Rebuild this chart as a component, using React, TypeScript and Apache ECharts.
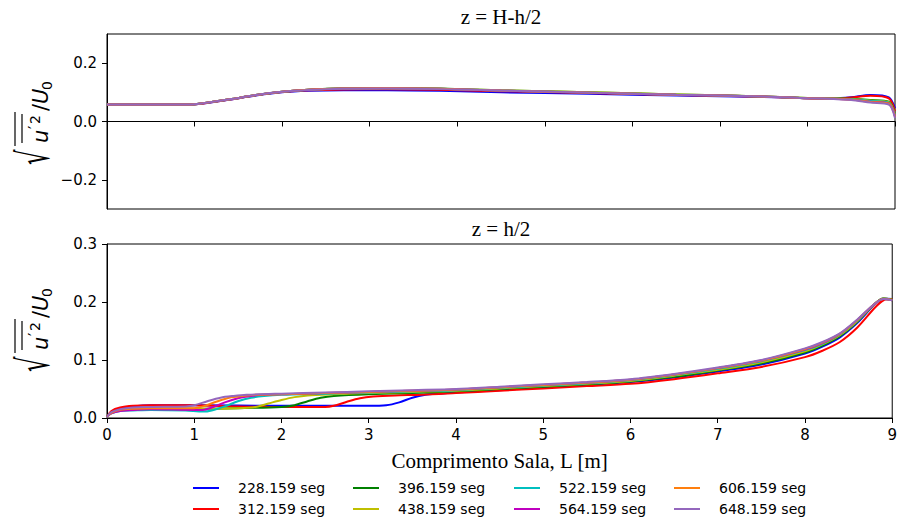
import React, { useEffect, useRef } from "react";
import * as echarts from "echarts";

const seriesNames = [
  "228.159 seg",
  "312.159 seg",
  "396.159 seg",
  "438.159 seg",
  "522.159 seg",
  "564.159 seg",
  "606.159 seg",
  "648.159 seg",
];
const colors = ["#0000ff", "#ff0000", "#008000", "#bfbf00", "#00bfbf", "#bf00bf", "#ff7f0e", "#9467bd"];

const xTicks = [0, 1, 2, 3, 4, 5, 6, 7, 8, 9];
const topYTicks = [-0.2, 0.0, 0.2];
const bottomYTicks = [0.0, 0.1, 0.2, 0.3];

// top panel: z = H-h/2
const topBlue = [[0, 0.058], [0.5, 0.058], [0.95, 0.058], [1.1, 0.062], [1.4, 0.075], [1.7, 0.089], [2.0, 0.1], [2.3, 0.105], [2.7, 0.107], [3.2, 0.107], [3.8, 0.105], [4.5, 0.1], [5.5, 0.095], [6.5, 0.089], [7.5, 0.084], [8.0, 0.08], [8.3, 0.079], [8.5, 0.083], [8.72, 0.091], [8.93, 0.083], [9.0, 0.045]];
const topRed = [[0, 0.058], [0.5, 0.058], [0.95, 0.058], [1.1, 0.062], [1.4, 0.075], [1.7, 0.09], [2.0, 0.101], [2.3, 0.107], [2.7, 0.11], [3.2, 0.111], [3.8, 0.109], [4.5, 0.104], [5.5, 0.098], [6.5, 0.091], [7.5, 0.085], [8.0, 0.08], [8.3, 0.079], [8.5, 0.082], [8.72, 0.088], [8.93, 0.079], [9.0, 0.035]];
const topGreen = [[0, 0.058], [0.5, 0.058], [0.95, 0.058], [1.1, 0.063], [1.4, 0.076], [1.7, 0.091], [2.0, 0.102], [2.3, 0.109], [2.7, 0.114], [3.2, 0.115], [3.8, 0.113], [4.5, 0.107], [5.5, 0.1], [6.5, 0.093], [7.5, 0.086], [8.0, 0.081], [8.3, 0.079], [8.5, 0.078], [8.72, 0.074], [8.93, 0.068], [9.0, 0.026]];
const topYellow = [[0, 0.058], [0.5, 0.058], [0.95, 0.058], [1.1, 0.063], [1.4, 0.076], [1.7, 0.091], [2.0, 0.102], [2.3, 0.109], [2.7, 0.113], [3.2, 0.114], [3.8, 0.112], [4.5, 0.107], [5.5, 0.1], [6.5, 0.093], [7.5, 0.086], [8.0, 0.081], [8.3, 0.079], [8.5, 0.077], [8.72, 0.072], [8.93, 0.066], [9.0, 0.022]];
const topCyan = [[0, 0.058], [0.5, 0.058], [0.95, 0.058], [1.1, 0.063], [1.4, 0.076], [1.7, 0.091], [2.0, 0.102], [2.3, 0.109], [2.7, 0.113], [3.2, 0.114], [3.8, 0.112], [4.5, 0.106], [5.5, 0.099], [6.5, 0.092], [7.5, 0.086], [8.0, 0.08], [8.3, 0.078], [8.5, 0.076], [8.72, 0.07], [8.93, 0.064], [9.0, 0.02]];
const topMagenta = [[0, 0.058], [0.5, 0.058], [0.95, 0.058], [1.1, 0.063], [1.4, 0.076], [1.7, 0.091], [2.0, 0.102], [2.3, 0.109], [2.7, 0.113], [3.2, 0.114], [3.8, 0.112], [4.5, 0.106], [5.5, 0.099], [6.5, 0.092], [7.5, 0.086], [8.0, 0.08], [8.3, 0.078], [8.5, 0.075], [8.72, 0.068], [8.93, 0.062], [9.0, 0.018]];
const topOrange = [[0, 0.058], [0.5, 0.058], [0.95, 0.058], [1.1, 0.063], [1.4, 0.076], [1.7, 0.091], [2.0, 0.102], [2.3, 0.109], [2.7, 0.113], [3.2, 0.114], [3.8, 0.112], [4.5, 0.106], [5.5, 0.099], [6.5, 0.092], [7.5, 0.086], [8.0, 0.08], [8.3, 0.078], [8.5, 0.075], [8.72, 0.067], [8.93, 0.061], [9.0, 0.016]];
const topPurple = [[0, 0.058], [0.5, 0.058], [0.95, 0.058], [1.1, 0.063], [1.4, 0.076], [1.7, 0.091], [2.0, 0.102], [2.3, 0.108], [2.7, 0.112], [3.2, 0.113], [3.8, 0.111], [4.5, 0.106], [5.5, 0.099], [6.5, 0.092], [7.5, 0.086], [8.0, 0.08], [8.3, 0.077], [8.5, 0.074], [8.72, 0.065], [8.93, 0.058], [9.0, 0.012]];

// bottom panel: z = h/2
const botBlue = [[0, 0.002], [0.05, 0.01], [0.15, 0.016], [0.3, 0.02], [0.5, 0.022], [1, 0.022], [2, 0.021], [2.5, 0.021], [3.0, 0.021], [3.2, 0.022], [3.35, 0.027], [3.5, 0.035], [3.65, 0.04], [3.8, 0.042], [4, 0.044], [4.5, 0.048], [5, 0.053], [5.5, 0.057], [6, 0.062], [6.5, 0.07], [7, 0.08], [7.5, 0.092], [8, 0.111], [8.2, 0.123], [8.4, 0.139], [8.6, 0.164], [8.8, 0.196], [8.9, 0.206], [9, 0.205]];
const botRed = [[0, 0.002], [0.05, 0.012], [0.15, 0.018], [0.3, 0.021], [0.5, 0.022], [1, 0.022], [1.5, 0.02], [2, 0.019], [2.5, 0.019], [2.6, 0.021], [2.75, 0.028], [2.9, 0.034], [3.05, 0.037], [3.3, 0.039], [3.6, 0.04], [4, 0.043], [4.5, 0.047], [5, 0.051], [5.5, 0.055], [6, 0.059], [6.5, 0.067], [7, 0.077], [7.5, 0.088], [8, 0.105], [8.2, 0.116], [8.4, 0.131], [8.6, 0.156], [8.8, 0.19], [8.9, 0.203], [9, 0.205]];
const botGreen = [[0, 0.002], [0.05, 0.009], [0.15, 0.013], [0.3, 0.015], [0.5, 0.016], [1, 0.016], [1.5, 0.017], [2, 0.019], [2.15, 0.022], [2.3, 0.029], [2.45, 0.035], [2.6, 0.038], [3, 0.041], [3.5, 0.043], [4, 0.046], [4.5, 0.05], [5, 0.054], [5.5, 0.058], [6, 0.063], [6.5, 0.071], [7, 0.082], [7.5, 0.094], [8, 0.113], [8.2, 0.125], [8.4, 0.141], [8.6, 0.166], [8.8, 0.197], [8.9, 0.206], [9, 0.204]];
const botYellow = [[0, 0.002], [0.05, 0.009], [0.15, 0.013], [0.3, 0.015], [0.5, 0.016], [1, 0.016], [1.5, 0.017], [1.7, 0.019], [1.85, 0.025], [2.0, 0.031], [2.15, 0.036], [2.3, 0.039], [2.6, 0.041], [3, 0.043], [3.5, 0.045], [4, 0.047], [4.5, 0.051], [5, 0.055], [5.5, 0.059], [6, 0.064], [6.5, 0.073], [7, 0.083], [7.5, 0.096], [8, 0.115], [8.2, 0.127], [8.4, 0.143], [8.6, 0.167], [8.8, 0.197], [8.9, 0.206], [9, 0.204]];
const botCyan = [[0, 0.002], [0.05, 0.008], [0.15, 0.012], [0.3, 0.013], [0.5, 0.014], [0.9, 0.013], [1.1, 0.011], [1.2, 0.013], [1.35, 0.02], [1.5, 0.029], [1.65, 0.035], [1.8, 0.038], [2, 0.04], [2.5, 0.042], [3, 0.044], [3.5, 0.046], [4, 0.048], [4.5, 0.052], [5, 0.056], [5.5, 0.06], [6, 0.065], [6.5, 0.074], [7, 0.085], [7.5, 0.098], [8, 0.117], [8.2, 0.128], [8.4, 0.144], [8.6, 0.168], [8.8, 0.197], [8.9, 0.205], [9, 0.203]];
const botMagenta = [[0, 0.002], [0.05, 0.008], [0.15, 0.012], [0.3, 0.014], [0.5, 0.015], [1, 0.014], [1.1, 0.014], [1.2, 0.018], [1.35, 0.027], [1.5, 0.034], [1.65, 0.038], [1.8, 0.04], [2, 0.041], [2.5, 0.043], [3, 0.045], [3.5, 0.047], [4, 0.049], [4.5, 0.053], [5, 0.057], [5.5, 0.061], [6, 0.066], [6.5, 0.075], [7, 0.086], [7.5, 0.099], [8, 0.118], [8.2, 0.129], [8.4, 0.145], [8.6, 0.169], [8.8, 0.197], [8.9, 0.205], [9, 0.203]];
const botOrange = [[0, 0.002], [0.05, 0.009], [0.15, 0.014], [0.3, 0.016], [0.5, 0.017], [1, 0.017], [1.1, 0.02], [1.25, 0.028], [1.4, 0.035], [1.55, 0.038], [1.7, 0.04], [2, 0.041], [2.5, 0.043], [3, 0.045], [3.5, 0.047], [4, 0.049], [4.5, 0.053], [5, 0.057], [5.5, 0.061], [6, 0.066], [6.5, 0.075], [7, 0.086], [7.5, 0.099], [8, 0.119], [8.2, 0.13], [8.4, 0.145], [8.6, 0.169], [8.8, 0.197], [8.9, 0.205], [9, 0.203]];
const botPurple = [[0, 0.002], [0.05, 0.01], [0.15, 0.015], [0.3, 0.018], [0.5, 0.019], [0.9, 0.02], [1.0, 0.022], [1.15, 0.029], [1.3, 0.035], [1.45, 0.038], [1.6, 0.04], [2, 0.042], [2.5, 0.044], [3, 0.046], [3.5, 0.048], [4, 0.05], [4.5, 0.054], [5, 0.058], [5.5, 0.062], [6, 0.067], [6.5, 0.076], [7, 0.087], [7.5, 0.1], [8, 0.12], [8.2, 0.131], [8.4, 0.146], [8.6, 0.17], [8.8, 0.197], [8.9, 0.205], [9, 0.203]];

const topData = [topBlue, topRed, topGreen, topYellow, topCyan, topMagenta, topOrange, topPurple];
const bottomData = [botBlue, botRed, botGreen, botYellow, botCyan, botMagenta, botOrange, botPurple];

const titles = ["z = H-h/2", "z = h/2"];
const xLabel = "Comprimento Sala, L [m]";

const fmtTick = (v: number) => (v < 0 ? "\u2212" + Math.abs(v).toFixed(1) : v.toFixed(1));

function yLabel(cx: number, cy: number) {
  const base = 16;
  const t = (text: string, x: number, y: number, font: string, extra: any = {}) => ({
    type: "text",
    x,
    y,
    ...extra,
    style: { text, font, fill: "#000", align: "left", verticalAlign: "middle", textAlign: "left", textVerticalAlign: "middle" },
  });
  return {
    type: "group",
    x: cx,
    y: cy,
    rotation: Math.PI / 2,
    children: [
      t("\u221A", -43, 2, "44px 'DejaVu Sans'", { scaleX: 0.55 }),
      { type: "line", shape: { x1: -24, y1: -17, x2: 10, y2: -17 }, style: { stroke: "#000", lineWidth: 1.2 } },
      { type: "line", shape: { x1: -21, y1: -10, x2: 8, y2: -10 }, style: { stroke: "#000", lineWidth: 1.2 } },
      t("u", -21, base - 7.5, "italic 21px 'DejaVu Sans'"),
      t("\u2032", -7, base - 13, "15px 'DejaVu Sans'"),
      t("2", -2, base - 13, "14px 'DejaVu Sans'"),
      t("/", 11, base - 7.5, "21px 'DejaVu Sans'"),
      t("U", 18, base - 7.5, "italic 21px 'DejaVu Sans'"),
      t("0", 32, base - 1, "14px 'DejaVu Sans'"),
    ],
  };
}

export default function App() {
  const ref = useRef<HTMLDivElement>(null);
  useEffect(() => {
    if (!ref.current) return;
    const chart = echarts.init(ref.current, undefined, { renderer: "svg" });
    const axisCommon = {
      axisLine: { show: true, lineStyle: { color: "#000", width: 1 } },
      axisTick: { show: true, length: 5, inside: false, lineStyle: { color: "#000", width: 1 } },
      splitLine: { show: false },
    };
    const labelStyle = { color: "#000", fontSize: 15, fontFamily: "DejaVu Sans" };
    const series: any[] = [];
    [topData, bottomData].forEach((set, gi) => {
      set.forEach((d, i) => {
        series.push({
          type: "line",
          name: seriesNames[i],
          xAxisIndex: gi,
          yAxisIndex: gi,
          data: d,
          showSymbol: false,
          smooth: 0.3,
          lineStyle: { color: colors[i], width: 2 },
          itemStyle: { color: colors[i] },
          z: 2 + i,
        });
      });
    });
    const colLeft = [193, 353, 514, 674];
    const rowTop = [481, 502];
    const legends = seriesNames.map((n, i) => ({
      data: [n],
      left: colLeft[Math.floor(i / 2)],
      top: rowTop[i % 2],
      orient: "horizontal",
      padding: 0,
      icon: "rect",
      itemWidth: 26,
      itemHeight: 2,
      itemGap: 0,
      selectedMode: false,
      textStyle: { color: "#000", fontSize: 14, fontFamily: "DejaVu Sans", padding: [0, 0, 0, 14] },
    }));
    chart.setOption({
      animation: false,
      backgroundColor: "#fff",
      grid: [
        { left: 107, top: 34, width: 788, height: 175, show: true, borderColor: "#000", borderWidth: 1, backgroundColor: "transparent" },
        { left: 107, top: 244, width: 788, height: 174, show: true, borderColor: "#000", borderWidth: 1, backgroundColor: "transparent" },
      ],
      xAxis: [
        { gridIndex: 0, type: "value", min: 0, max: 9, interval: 1, ...axisCommon, axisLabel: { show: false } },
        {
          gridIndex: 1,
          type: "value",
          min: 0,
          max: 9,
          interval: 1,
          ...axisCommon,
          axisLabel: { ...labelStyle, margin: 9, formatter: (v: number) => (xTicks.includes(v) ? String(v) : "") },
          name: xLabel,
          nameLocation: "middle",
          nameGap: 32,
          nameTextStyle: { color: "#000", fontSize: 21, fontFamily: "Liberation Serif" },
        },
      ],
      yAxis: [
        {
          gridIndex: 0,
          type: "value",
          min: -0.3,
          max: 0.3,
          ...axisCommon,
          axisTick: { ...axisCommon.axisTick, customValues: topYTicks },
          axisLabel: { ...labelStyle, margin: 10, customValues: topYTicks, formatter: fmtTick },
        },
        {
          gridIndex: 1,
          type: "value",
          min: 0,
          max: 0.3,
          interval: 0.1,
          ...axisCommon,
          axisTick: { ...axisCommon.axisTick, customValues: bottomYTicks },
          axisLabel: { ...labelStyle, margin: 10, customValues: bottomYTicks, formatter: fmtTick },
        },
      ],
      legend: legends,
      series,
      graphic: [
        {
          type: "text",
          x: 501,
          y: 17,
          style: { text: titles[0], font: "21px 'Liberation Serif'", fill: "#000", align: "center", verticalAlign: "middle", textAlign: "center", textVerticalAlign: "middle" },
        },
        {
          type: "text",
          x: 501,
          y: 229,
          style: { text: titles[1], font: "21px 'Liberation Serif'", fill: "#000", align: "center", verticalAlign: "middle", textAlign: "center", textVerticalAlign: "middle" },
        },
        yLabel(32, 122),
        yLabel(32, 329),
      ],
    });
    return () => chart.dispose();
  }, []);
  return <div ref={ref} style={{ position: "fixed", left: 0, top: 0, width: 900, height: 522 }} />;
}
